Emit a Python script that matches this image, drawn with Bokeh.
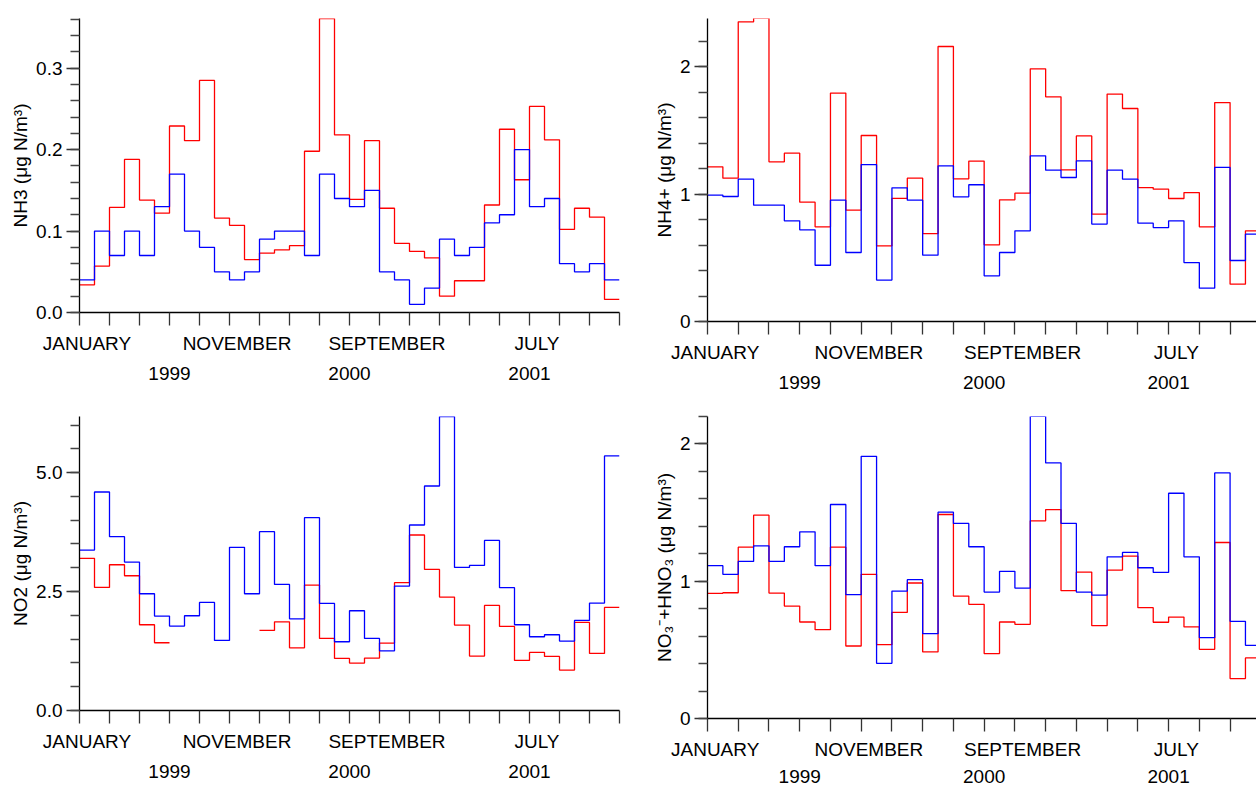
import math

from bokeh.embed import file_html
from bokeh.layouts import column, row
from bokeh.models import (FixedTicker, LinearAxis, PrintfTickFormatter,
                          Range1d, SingleIntervalTicker)
from bokeh.plotting import figure
from bokeh.resources import INLINE

FONT = "Liberation Sans"
NAN = float("nan")

# Monthly samples, January 1999 .. December 2001 (36 months)
months = list(range(36))
month_labels = {0.5: "JANUARY", 10.5: "NOVEMBER", 20.5: "SEPTEMBER", 30.5: "JULY"}
year_labels = {6: "1999", 18: "2000", 30: "2001"}

nh3_red = [0.034, 0.057, 0.129, 0.188, 0.138, 0.122, 0.229, 0.211, 0.285, 0.116,
           0.107, 0.065, 0.073, 0.077, 0.082, 0.198, 0.361, 0.218, 0.139, 0.211,
           0.128, 0.085, 0.075, 0.067, 0.020, 0.039, 0.039, 0.132, 0.225, 0.163,
           0.253, 0.212, 0.102, 0.128, 0.117, 0.016]
nh3_blue = [0.04, 0.10, 0.07, 0.10, 0.07, 0.13, 0.17, 0.10, 0.08, 0.05,
            0.04, 0.05, 0.09, 0.10, 0.10, 0.07, 0.17, 0.14, 0.13, 0.15,
            0.05, 0.04, 0.01, 0.03, 0.09, 0.07, 0.08, 0.11, 0.12, 0.20,
            0.13, 0.14, 0.06, 0.05, 0.06, 0.04]

nh4_red = [1.215, 1.126, 2.354, 2.383, 1.254, 1.322, 0.937, 0.744, 1.794, 0.875,
           1.461, 0.594, 0.967, 1.126, 0.691, 2.160, 1.121, 1.260, 0.602, 0.956,
           1.008, 1.985, 1.765, 1.191, 1.458, 0.843, 1.786, 1.673, 1.052, 1.039,
           0.966, 1.013, 0.744, 1.720, 0.293, 0.712]
nh4_blue = [0.993, 0.982, 1.118, 0.914, 0.914, 0.791, 0.720, 0.442, 0.953, 0.542,
            1.233, 0.325, 1.050, 0.953, 0.521, 1.223, 0.979, 1.074, 0.359, 0.542,
            0.712, 1.301, 1.189, 1.131, 1.262, 0.765, 1.189, 1.118, 0.772, 0.738,
            0.791, 0.463, 0.262, 1.210, 0.479, 0.686]

no2_red = [3.198, 2.588, 3.064, 2.833, 1.802, 1.424, NAN, NAN, NAN, NAN,
           NAN, NAN, 1.683, 1.865, 1.318, 2.637, 1.515, 1.094, 0.996, 1.101,
           1.417, 2.686, 3.689, 2.966, 2.384, 1.795, 1.143, 2.209, 1.767, 1.052,
           1.220, 1.136, 0.849, 1.851, 1.199, 2.167]
no2_blue = [3.373, 4.593, 3.654, 3.121, 2.454, 1.985, 1.774, 1.992, 2.272, 1.473,
            3.429, 2.454, 3.759, 2.651, 1.928, 4.053, 2.251, 1.445, 2.097, 1.515,
            1.255, 2.616, 3.899, 4.719, 6.178, 3.008, 3.050, 3.576, 2.581, 1.802,
            1.550, 1.592, 1.459, 1.893, 2.258, 5.351]

no3_red = [0.912, 0.916, 1.248, 1.481, 0.914, 0.819, 0.703, 0.647, 1.248, 0.528,
           1.050, 0.538, 0.773, 0.987, 0.485, 1.486, 0.892, 0.832, 0.473, 0.703,
           0.686, 1.440, 1.522, 0.931, 1.067, 0.676, 1.081, 1.183, 0.807, 0.701,
           0.739, 0.667, 0.504, 1.282, 0.291, 0.441]
no3_blue = [1.113, 1.050, 1.144, 1.258, 1.144, 1.251, 1.360, 1.113, 1.559, 0.902,
            1.910, 0.402, 0.928, 1.011, 0.618, 1.503, 1.421, 1.251, 0.921, 1.072,
            0.950, 2.201, 1.862, 1.421, 0.921, 0.899, 1.178, 1.210, 1.098, 1.064,
            1.641, 1.178, 0.589, 1.789, 0.708, 0.533]


def step_path(values):
    """Monthly step outline; each value holds for its whole month, gaps break the line."""
    xs, ys = [], []
    for m, v in zip(months, values):
        if math.isnan(v):
            xs.append(NAN)
            ys.append(NAN)
        else:
            xs += [m, m + 1]
            ys += [v, v]
    return xs, ys


def panel(title, red, blue, y_end, y_step, fmt, frame_w, frame_h, x_end,
          top, bottom, left, right, year_gap=10):
    p = figure(frame_width=frame_w, frame_height=frame_h,
               x_range=Range1d(0, x_end), y_range=Range1d(0, y_end),
               x_axis_location=None, y_axis_location=None,
               toolbar_location=None, output_backend="svg",
               min_border_top=top, min_border_bottom=bottom,
               min_border_left=left, min_border_right=right,
               outline_line_color=None, background_fill_color="white",
               border_fill_color="white")
    p.grid.visible = False

    yax = LinearAxis(ticker=SingleIntervalTicker(interval=y_step, num_minor_ticks=5),
                     formatter=PrintfTickFormatter(format=fmt),
                     axis_label=title,
                     axis_label_text_font=FONT, axis_label_text_font_size="19px",
                     axis_label_text_font_style="normal", axis_label_text_color="black",
                     axis_label_standoff=2,
                     major_label_text_font=FONT, major_label_text_font_size="19px",
                     major_label_text_color="black", major_label_standoff=4,
                     axis_line_color="black", axis_line_width=1.3,
                     major_tick_line_color="#333333", major_tick_line_width=1.3,
                     major_tick_out=13, major_tick_in=0,
                     minor_tick_line_color="#444444", minor_tick_line_width=1.3,
                     minor_tick_out=9, minor_tick_in=0)
    p.add_layout(yax, "left")

    # month names sit under the middle of their month; ticks mark every second month
    xax = LinearAxis(ticker=FixedTicker(ticks=list(month_labels),
                                        minor_ticks=list(range(0, 37, 2))),
                     major_label_overrides=month_labels,
                     major_label_text_font=FONT, major_label_text_font_size="19px",
                     major_label_text_color="black", major_label_standoff=7,
                     axis_line_color="black", axis_line_width=1.3,
                     major_tick_line_color=None, major_tick_out=0, major_tick_in=0,
                     minor_tick_line_color="#333333", minor_tick_line_width=1.3,
                     minor_tick_out=13, minor_tick_in=0)
    p.add_layout(xax, "below")

    # second row: the year, centred on its twelve months
    yr_ax = LinearAxis(ticker=FixedTicker(ticks=list(year_labels), minor_ticks=[]),
                       major_label_overrides=year_labels,
                       major_label_text_font=FONT, major_label_text_font_size="19px",
                       major_label_text_color="black", major_label_standoff=year_gap,
                       axis_line_color=None,
                       major_tick_line_color=None, major_tick_out=0, major_tick_in=0,
                       minor_tick_line_color=None, minor_tick_out=0, minor_tick_in=0)
    p.add_layout(yr_ax, "below")

    rx, ry = step_path(red)
    bx, by = step_path(blue)
    p.line(rx, ry, line_color="#ff0000", line_width=1.3)
    p.line(bx, by, line_color="#0000ff", line_width=1.3)
    return p


tl = panel("NH3 (\u03bcg N/m\u00b3)", nh3_red, nh3_blue, 0.361, 0.1, "%.1f",
           540, 294, 36, top=18, bottom=85, left=79, right=9)
bl = panel("NO2 (\u03bcg N/m\u00b3)", no2_red, no2_blue, 6.18, 2.5, "%.1f",
           540, 294, 36, top=19, bottom=77, left=79, right=9)
tr = panel("NH4+ (\u03bcg N/m\u00b3)", nh4_red, nh4_blue, 2.38, 1, "%d",
           549, 303, 549 / 15.37, top=18, bottom=76, left=79, right=0)
br = panel("NO\u2083\u207b+HNO\u2083 (\u03bcg N/m\u00b3)", no3_red, no3_blue, 2.2, 1, "%d",
           549, 302, 549 / 15.37, top=19, bottom=69, left=79, right=0, year_gap=7)

layout = row(column(tl, bl), column(tr, br))

with open("out.html", "w") as f:
    f.write(file_html(layout, INLINE, title="Monthly concentrations"))
